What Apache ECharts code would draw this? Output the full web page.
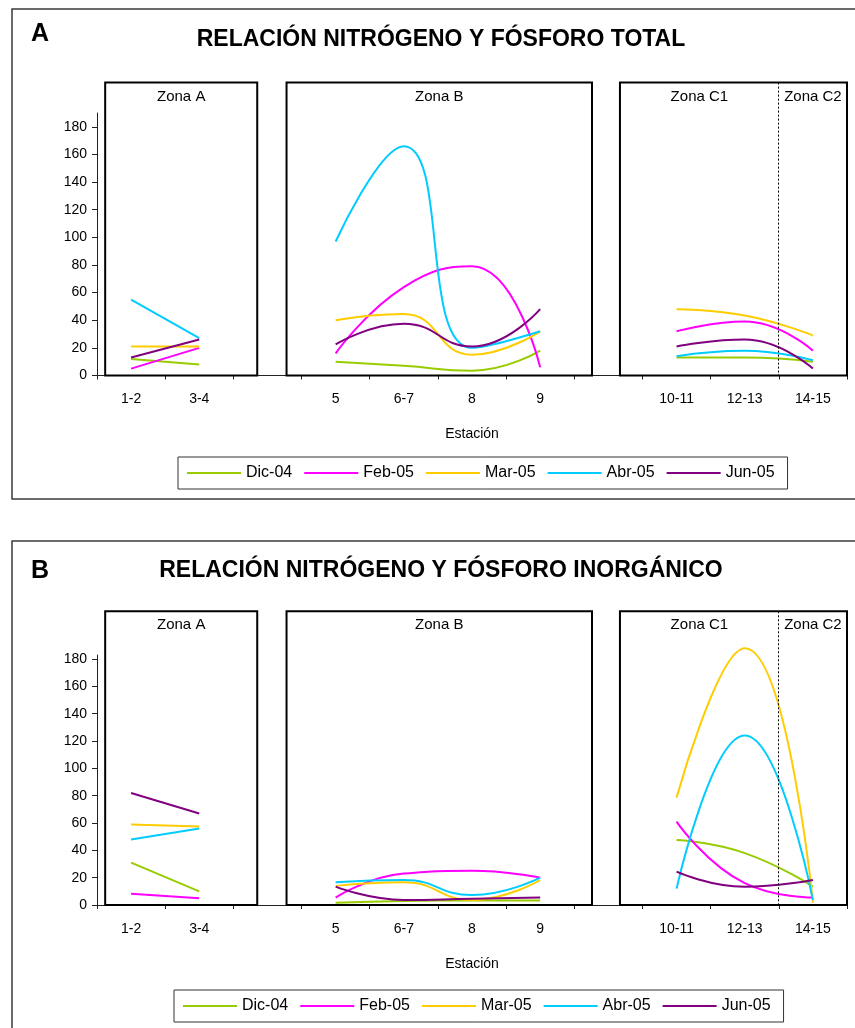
<!DOCTYPE html>
<html>
<head>
<meta charset="utf-8">
<script src="https://cdn.jsdelivr.net/npm/echarts@6/dist/echarts.min.js"></script>
<style>
  html, body { margin: 0; padding: 0; background: #fff; }
  #chart { width: 855px; height: 1028px; }
</style>
</head>
<body>
<div id="chart"></div>
<script>
// Sampling stations along the x axis (empty slots separate the zones)
const stations = ['1-2', '3-4', '', '5', '6-7', '8', '9', '', '10-11', '12-13', '14-15'];
const campaigns = ['Dic-04', 'Feb-05', 'Mar-05', 'Abr-05', 'Jun-05'];
const yTicks = [0, 20, 40, 60, 80, 100, 120, 140, 160, 180];

// N:P ratio, total nitrogen / total phosphorus
const totalDic = [12, 8, null, 10, 7, 3.5, 18, null, 13, 13, 10];
const totalFeb = [5, 20, null, 16, 64, 79, 6, null, 32, 39, 18];
const totalMar = [21, 21, null, 40, 44.5, 15, 32, null, 48, 43.5, 29];
const totalAbr = [55, 27, null, 97, 166, 20, 32, null, 14, 18, 11];
const totalJun = [13, 26, null, 22.5, 37.5, 21, 48, null, 21, 26, 5];

// N:P ratio, inorganic nitrogen / inorganic phosphorus
const inorgDic = [31, 10, null, 1.7, 3, 3.3, 3.3, null, 47.6, 38, 13.4];
const inorgFeb = [8.3, 5, null, 5.4, 23, 25, 20, null, 61, 16, 5.4];
const inorgMar = [59, 57.5, null, 14, 16.6, 3.7, 18.3, null, 78.6, 188, 1.7];
const inorgAbr = [48, 56, null, 16.6, 18.3, 7.3, 20, null, 12, 124, 3.7];
const inorgJun = [82, 67, null, 13.4, 3.7, 4.6, 5.4, null, 24.4, 13.4, 18.3];

const palette = ['#99CC00', '#FF00FF', '#FFCC00', '#00CCFF', '#800080'];
const FONT = '"Liberation Sans", Arial, Helvetica, sans-serif';

// Zone frames, in category-index units along the x axis
const zones = [
  { label: 'Zona A', from: -0.38, to: 1.85 },
  { label: 'Zona B', from: 2.28, to: 6.76 },
  { label: 'Zona C1', from: 7.17, to: 10.5, split: 9.5, label2: 'Zona C2' }
];

const panels = [
  {
    letter: 'A', title: 'RELACIÓN NITRÓGENO Y FÓSFORO TOTAL',
    values: [totalDic, totalFeb, totalMar, totalAbr, totalJun],
    yMax: 190, gridTop: 113, gridHeight: 262.5, boxTopValue: 212,
    frameTop: 9, frameBottom: 499, titleY: 39.5, letterY: 34,
    legendLeft: 178, legendTop: 457
  },
  {
    letter: 'B', title: 'RELACIÓN NITRÓGENO Y FÓSFORO INORGÁNICO',
    values: [inorgDic, inorgFeb, inorgMar, inorgAbr, inorgJun],
    yMax: 183, gridTop: 655, gridHeight: 250, boxTopValue: 215,
    frameTop: 541, frameBottom: 1060, titleY: 570.5, letterY: 571,
    legendLeft: 174, legendTop: 990
  }
];

const chart = echarts.init(document.getElementById('chart'), null, { renderer: 'canvas' });

const option = {
  animation: false,
  backgroundColor: '#fff',
  textStyle: { fontFamily: FONT, color: '#000' },
  grid: panels.map(p => ({ left: 97, width: 750, top: p.gridTop, height: p.gridHeight, containLabel: false })),
  xAxis: panels.map((p, i) => ({
    type: 'category', gridIndex: i, data: stations, boundaryGap: true,
    axisLine: { show: true, lineStyle: { color: '#222', width: 1 } },
    axisTick: { show: true, interval: 0, length: 4, lineStyle: { color: '#222' } },
    axisLabel: { interval: 0, fontSize: 14, color: '#000', margin: 17, fontFamily: FONT },
    name: 'Estación', nameLocation: 'middle', nameGap: 52,
    nameTextStyle: { fontSize: 14, color: '#000', fontFamily: FONT },
    splitLine: { show: false }
  })),
  yAxis: panels.map((p, i) => ({
    type: 'value', gridIndex: i, min: 0, max: p.yMax,
    axisLine: { show: true, lineStyle: { color: '#222', width: 1 } },
    axisTick: { show: true, length: 5, customValues: yTicks, lineStyle: { color: '#222' } },
    axisLabel: { customValues: yTicks, fontSize: 14, color: '#000', margin: 10, fontFamily: FONT },
    splitLine: { show: false }
  })),
  legend: panels.map((p, i) => ({
    data: campaigns, left: p.legendLeft, top: p.legendTop,
    icon: 'rect', itemWidth: 54, itemHeight: 2, itemGap: 12,
    padding: [8, 13, 8, 9], borderColor: '#333', borderWidth: 1,
    textStyle: { fontSize: 16, color: '#000', fontFamily: FONT },
    selectedMode: false
  })),
  series: []
};

panels.forEach((p, i) => {
  p.values.forEach((vals, k) => {
    option.series.push({
      name: campaigns[k], type: 'line', xAxisIndex: i, yAxisIndex: i,
      data: vals, smooth: 0.5, symbol: 'none', connectNulls: false, clip: false,
      color: palette[k], lineStyle: { width: 2, color: palette[k] },
      z: 3
    });
  });
});

chart.setOption(option);

// Frames, zone boxes, and titles placed from the axes' own scales
const graphics = [];
panels.forEach((p, i) => {
  const x0 = chart.convertToPixel({ xAxisIndex: i }, 0);
  const x10 = chart.convertToPixel({ xAxisIndex: i }, 10);
  const step = (x10 - x0) / 10;
  const cx = pos => x0 + pos * step;
  const yBase = chart.convertToPixel({ yAxisIndex: i }, 0);
  const yTop = chart.convertToPixel({ yAxisIndex: i }, p.boxTopValue);

  graphics.push({
    type: 'rect', silent: true, z: 1,
    shape: { x: 12, y: p.frameTop, width: 870, height: p.frameBottom - p.frameTop },
    style: { fill: null, stroke: '#3a3a3a', lineWidth: 1.5 }
  });

  zones.forEach(zn => {
    graphics.push({
      type: 'rect', silent: true, z: 20,
      shape: { x: cx(zn.from), y: yTop, width: (zn.to - zn.from) * step, height: yBase - yTop },
      style: { fill: null, stroke: '#000', lineWidth: 2 }
    });
    const labelEnd = zn.split !== undefined ? zn.split : zn.to;
    graphics.push({
      type: 'text', silent: true, z: 21,
      x: cx((zn.from + labelEnd) / 2), y: yTop + 14,
      style: { text: zn.label, fill: '#000', font: '15px ' + FONT,
               align: 'center', verticalAlign: 'middle', textAlign: 'center', textVerticalAlign: 'middle' }
    });
    if (zn.split !== undefined) {
      const xs = Math.round(cx(zn.split)) - 0.5;
      graphics.push({
        type: 'line', silent: true, z: 20,
        shape: { x1: xs, y1: yTop, x2: xs, y2: yBase },
        style: { stroke: '#000', lineWidth: 1, lineDash: [2, 2] }
      });
      graphics.push({
        type: 'text', silent: true, z: 21,
        x: cx((zn.split + zn.to) / 2), y: yTop + 14,
        style: { text: zn.label2, fill: '#000', font: '15px ' + FONT,
                 align: 'center', verticalAlign: 'middle', textAlign: 'center', textVerticalAlign: 'middle' }
      });
    }
  });

  graphics.push({
    type: 'text', silent: true, z: 21, x: 31, y: p.letterY,
    style: { text: p.letter, fill: '#000', font: 'bold 25px ' + FONT,
             align: 'left', verticalAlign: 'middle', textAlign: 'left', textVerticalAlign: 'middle' }
  });
  graphics.push({
    type: 'text', silent: true, z: 21, x: 441, y: p.titleY,
    style: { text: p.title, fill: '#000', font: 'bold 23px ' + FONT,
             align: 'center', verticalAlign: 'middle', textAlign: 'center', textVerticalAlign: 'middle' }
  });
});

chart.setOption({ graphic: graphics });
</script>
</body>
</html>
